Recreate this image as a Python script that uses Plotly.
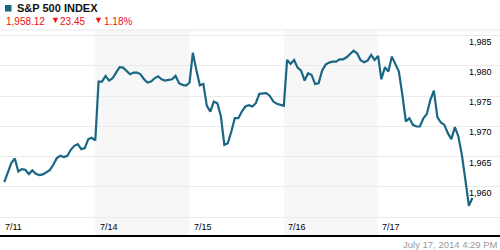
import plotly.graph_objects as go

# ---------------- data ----------------
days = ["7/11", "7/14", "7/15", "7/16", "7/17"]
shaded_days = ["7/14", "7/16"]

# S&P 500 intraday values, one reading every 15 minutes (9:30 .. 16:00)
jul11 = [1960.77, 1962.26, 1963.91, 1964.68, 1962.53, 1962.92, 1962.81, 1962.09, 1962.70,
         1962.15, 1961.93, 1962.04, 1962.37, 1962.75, 1963.63, 1964.73, 1965.12, 1964.90,
         1965.12, 1966.11, 1966.77, 1967.04, 1966.22, 1966.38, 1967.87, 1968.09, 1967.65]
jul14 = [1977.38, 1977.38, 1978.32, 1977.55, 1977.93, 1978.87, 1979.75, 1979.69, 1979.20,
         1978.59, 1978.87, 1978.87, 1978.59, 1977.77, 1977.22, 1977.38, 1977.93, 1978.26,
         1977.77, 1977.55, 1977.66, 1977.77, 1978.32, 1977.11, 1976.83, 1976.72, 1977.22]
jul15 = [1982.17, 1979.31, 1976.78, 1977.00, 1973.37, 1972.43, 1974.08, 1973.81, 1971.72,
         1966.93, 1967.21, 1969.13, 1971.33, 1971.33, 1972.43, 1973.26, 1973.48, 1973.26,
         1973.81, 1975.35, 1975.35, 1975.46, 1975.02, 1974.08, 1973.70, 1973.53, 1973.37]
jul16 = [1980.96, 1980.30, 1980.96, 1979.69, 1979.20, 1977.55, 1978.76, 1978.48, 1977.00,
         1977.11, 1979.20, 1980.19, 1980.52, 1980.68, 1980.68, 1981.07, 1981.07, 1981.40,
         1981.95, 1982.50, 1982.06, 1980.90, 1980.57, 1980.85, 1981.78, 1980.96, 1981.62]
jul17 = [1977.77, 1979.75, 1979.03, 1981.51, 1980.19, 1979.03, 1975.18, 1970.78, 1971.33,
         1970.23, 1969.96, 1969.96, 1971.33, 1972.05, 1974.36, 1975.90, 1971.50, 1970.62,
         1970.23, 1968.86, 1967.87, 1969.85, 1968.31, 1965.28, 1961.16, 1956.86, 1958.13]
series = [jul11, jul14, jul15, jul16, jul17]

y_tick_vals = [1955, 1960, 1965, 1970, 1975, 1980, 1985]
y_tick_text = ["", "1,960", "1,965", "1,970", "1,975", "1,980", "1,985"]

index_name = "S&P 500 INDEX"
last_value = "1,958.12"
change_pts = "23.45"
change_pct = "1.18%"
timestamp = "July 17, 2014 4:29 PM"

# ---------------- layout constants ----------------
W, H = 500, 250
TOP, BOTTOM = 30, 236          # plot area in pixels
STEP = 15                      # minutes between readings
SESSION = 390                  # trading minutes per day
SLOT = 404                     # axis width of one day (session + compressed overnight gap)
LINE = "#1a6783"
RED = "#ee1111"
FONT = "Liberation Sans, Arial, sans-serif"


def py(p):
    """pixel y -> paper y"""
    return (BOTTOM - p) / (BOTTOM - TOP)


x, y = [], []
for d, vals in enumerate(series):
    for i, v in enumerate(vals):
        x.append(d * SLOT + i * STEP)
        y.append(v)

fig = go.Figure(go.Scatter(x=x, y=y, mode="lines",
                           line=dict(color=LINE, width=2.2), hoverinfo="skip"))

shapes = []
for name in shaded_days:
    d = days.index(name)
    shapes.append(dict(type="rect", xref="x", yref="paper",
                       x0=d * SLOT - (SLOT - SESSION), x1=(d + 1) * SLOT - (SLOT - SESSION),
                       y0=0, y1=1, fillcolor="#f7f7f7", line=dict(width=0), layer="below"))
# top border & bottom axis line
shapes.append(dict(type="line", xref="paper", yref="paper", x0=0, x1=1, y0=1, y1=1,
                   line=dict(color="#e9e9e9", width=1), layer="below"))
shapes.append(dict(type="line", xref="paper", yref="paper", x0=0, x1=1, y0=0, y1=0,
                   line=dict(color="#000000", width=2), layer="above"))
# legend square
shapes.append(dict(type="rect", xref="paper", yref="paper",
                   x0=5 / W, x1=11.5 / W, y0=py(11.5), y1=py(5),
                   fillcolor=LINE, line=dict(width=0)))

annotations = []
for d, name in enumerate(days):
    annotations.append(dict(x=d * SLOT - 4, xref="x", y=py(227), yref="paper",
                            text=name, showarrow=False, xanchor="left", yanchor="middle",
                            font=dict(family=FONT, size=9, color="#000000")))
for v, t in zip(y_tick_vals, y_tick_text):
    if t:
        annotations.append(dict(x=494 / W, xref="paper", y=v, yref="y", yshift=-6,
                                text=t, showarrow=False, xanchor="right", yanchor="middle",
                                font=dict(family=FONT, size=9, color="#000000")))

header = [
    dict(x=15 / W, y=py(8.5), text="<b>" + index_name + "</b>",
         font=dict(family=FONT, size=11, color="#111111")),
    dict(x=4 / W, y=py(21), text=last_value,
         font=dict(family=FONT, size=10, color=RED)),
    dict(x=49 / W, y=py(20.5), text="▼",
         font=dict(family=FONT, size=9, color=RED)),
    dict(x=58 / W, y=py(21), text=change_pts,
         font=dict(family=FONT, size=10, color=RED)),
    dict(x=92 / W, y=py(20.5), text="▼",
         font=dict(family=FONT, size=9, color=RED)),
    dict(x=102 / W, y=py(21), text=change_pct,
         font=dict(family=FONT, size=10, color=RED)),
]
for a in header:
    a.update(xref="paper", yref="paper", showarrow=False, xanchor="left", yanchor="middle")
annotations += header
annotations.append(dict(x=1, y=py(244), xref="paper", yref="paper", text=timestamp,
                        showarrow=False, xanchor="right", yanchor="middle",
                        font=dict(family=FONT, size=9.5, color="#999999")))

px_per_min = 91 / SESSION
x_min = -4.3 / px_per_min
x_max = x_min + W / px_per_min
px_per_pt = 6.05
y_max = 1985 + (35.5 - TOP) / px_per_pt
y_min = y_max - (BOTTOM - TOP) / px_per_pt

fig.update_layout(
    width=W, height=H,
    margin=dict(l=0, r=0, t=TOP, b=H - BOTTOM, pad=0),
    paper_bgcolor="white", plot_bgcolor="white",
    showlegend=False,
    shapes=shapes, annotations=annotations,
    xaxis=dict(range=[x_min, x_max], showgrid=False, zeroline=False,
               showticklabels=False, showline=False, ticks="", fixedrange=True),
    yaxis=dict(range=[y_min, y_max], side="right", showticklabels=False,
               tickvals=y_tick_vals,
               showgrid=True, gridcolor="#ebebeb", gridwidth=1,
               zeroline=False, showline=False, ticks="", automargin=False,
               fixedrange=True),
)

fig.write_html("out.html")
